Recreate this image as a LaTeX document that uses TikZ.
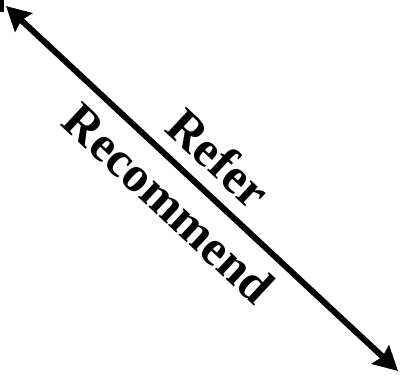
\documentclass[tikz,border=0pt]{standalone}
\usepackage{fontspec}
\setmainfont{Liberation Serif}
\usetikzlibrary{arrows.meta}
\tikzset{
  biarrow/.style={line width=6pt, {Stealth[length=24pt,width=25pt,inset=3pt]}-{Stealth[length=24pt,width=25pt,inset=3pt]}},
  lbl/.style={font=\fontsize{50}{50}\selectfont\bfseries, inner sep=0pt, rotate=-43, anchor=center}
}
\begin{document}
\begin{tikzpicture}[x=1pt,y=-1pt]
\useasboundingbox (0,0) rectangle (405,376);
\fill (0,0) rectangle (4,12);
\coordinate (a) at (6,6);
\coordinate (b) at (398,371);
\draw[biarrow] (a) -- (b);
\node[lbl] (refer) at (219,158) {Refer};
\node[lbl] (recommend) at (169,203) {Recommend};
\end{tikzpicture}
\end{document}
